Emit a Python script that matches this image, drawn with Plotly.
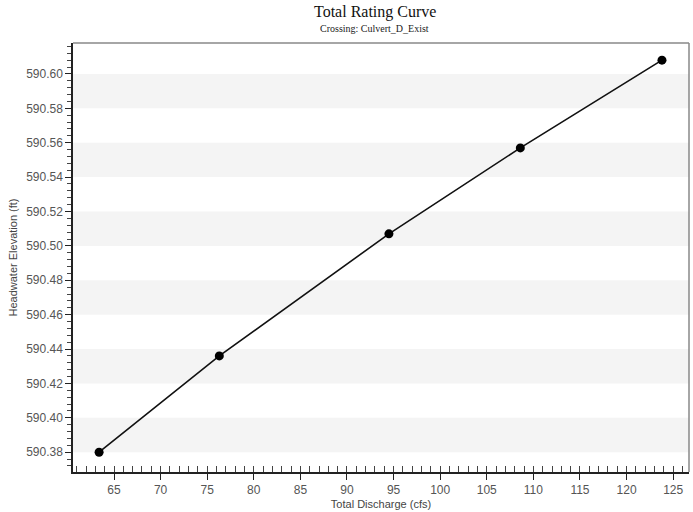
import plotly.graph_objects as go

discharge = [63.4, 76.3, 94.5, 108.6, 123.8]
headwater = [590.380, 590.436, 590.507, 590.557, 590.608]

x_range = [60.6, 126.7]
y_range = [590.3685, 590.618]
y_ticks = [590.38, 590.40, 590.42, 590.44, 590.46, 590.48, 590.50, 590.52, 590.54, 590.56, 590.58, 590.60]

fig = go.Figure()

# alternating grey bands between the major y ticks
shapes = []
for i in range(len(y_ticks) - 1):
    if i % 2 == 0:
        shapes.append(dict(type="rect", xref="paper", yref="y", x0=0, x1=1,
                           y0=y_ticks[i], y1=y_ticks[i + 1],
                           fillcolor="#f4f4f4", line_width=0, layer="below"))
# grey frame on top and right
shapes.append(dict(type="line", xref="paper", yref="paper", x0=0, x1=1, y0=1, y1=1,
                   line=dict(color="#888", width=1.5)))
shapes.append(dict(type="line", xref="paper", yref="paper", x0=1, x1=1, y0=0, y1=1,
                   line=dict(color="#888", width=1.5)))

fig.add_trace(go.Scatter(x=discharge, y=headwater, mode="lines+markers",
                         line=dict(color="#111111", width=1.6),
                         marker=dict(color="#000000", size=9),
                         showlegend=False))

fig.update_layout(
    width=693, height=512,
    margin=dict(l=73, r=4, t=43, b=40),
    paper_bgcolor="white", plot_bgcolor="white",
    shapes=shapes,
    font=dict(family="Liberation Sans", size=12, color="#555555"),
    annotations=[
        dict(text="Total Rating Curve", xref="paper", yref="paper", x=0.49, y=1,
             yshift=31, xanchor="center", yanchor="middle", showarrow=False,
             font=dict(family="Liberation Serif", size=16, color="#111111")),
        dict(text="Crossing: Culvert_D_Exist", xref="paper", yref="paper", x=0.49, y=1,
             yshift=15, xanchor="center", yanchor="middle", showarrow=False,
             font=dict(family="Liberation Serif", size=10, color="#222222")),
    ],
)

fig.update_xaxes(
    range=x_range, tick0=65, dtick=5, ticks="outside", ticklen=6, tickcolor="#222",
    showgrid=False, zeroline=False, showline=True, linecolor="#222", linewidth=1.5,
    automargin=False,
    minor=dict(dtick=1, ticks="inside", ticklen=6, tickcolor="#444", showgrid=False),
    title=dict(text="Total Discharge (cfs)", font=dict(size=11, color="#444"), standoff=4),
    tickfont=dict(size=12, color="#555"),
)
fig.update_yaxes(
    range=y_range, tickvals=y_ticks, ticktext=["%.2f" % v for v in y_ticks],
    ticks="outside", ticklen=6, tickcolor="#222",
    showgrid=False, zeroline=False, showline=True, linecolor="#222", linewidth=1.5,
    automargin=False,
    minor=dict(dtick=0.004, tick0=590.38, ticks="outside", ticklen=4, tickcolor="#444", showgrid=False),
    title=dict(text="Headwater Elevation (ft)", font=dict(size=11, color="#444"), standoff=6),
    tickfont=dict(size=12, color="#555"),
)

fig.write_html("out.html", config={"displayModeBar": False},
               post_script="document.body.style.margin='0';")
